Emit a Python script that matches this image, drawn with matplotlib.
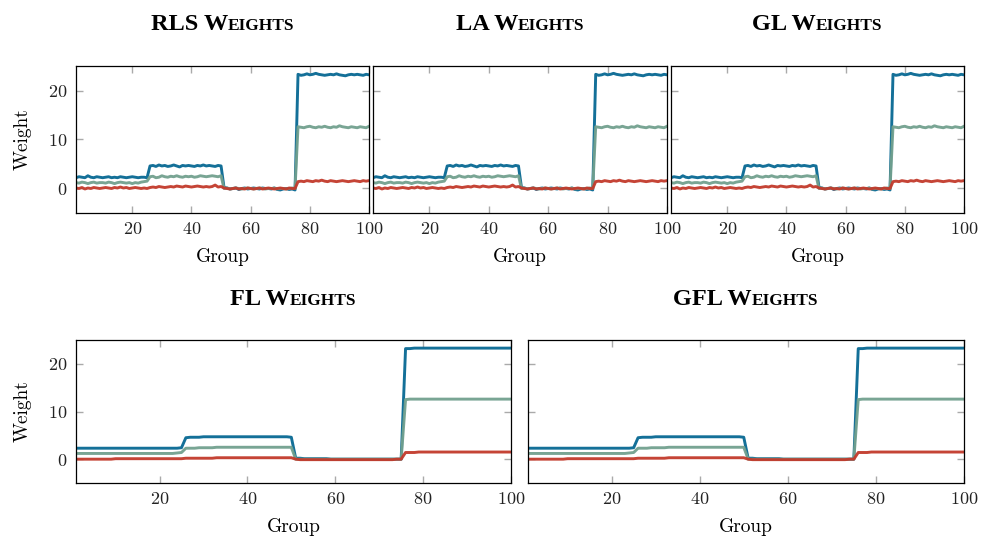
import matplotlib
matplotlib.use('Agg')
import matplotlib.pyplot as plt
from matplotlib.offsetbox import TextArea, HPacker, AnchoredOffsetbox

plt.rcParams['font.family'] = ['cmr10', 'DejaVu Serif']
plt.rcParams['axes.formatter.use_mathtext'] = True

groups = list(range(1, 101))

# noisy estimates (RLS / LA / GL look the same at this scale)
blue_noisy = [
    2.2, 2.4, 2.3, 2.2, 2.6, 2.3, 2.2, 2.4, 2.3, 2.2,
    2.3, 2.4, 2.2, 2.3, 2.2, 2.4, 2.3, 2.2, 2.3, 2.4,
    2.3, 2.2, 2.3, 2.3, 2.2,
    4.6, 4.7, 4.5, 4.8, 4.6, 4.7, 4.5, 4.6, 4.8, 4.6,
    4.4, 4.7, 4.6, 4.7, 4.6, 4.5, 4.7, 4.6, 4.8, 4.6,
    4.7, 4.6, 4.5, 4.7, 4.6,
    0.2, 0.1, -0.1, 0.0, 0.1, -0.2, 0.0, 0.1, -0.1, 0.0,
    0.1, 0.0, -0.1, 0.1, 0.0, 0.0, -0.1, 0.1, -0.2, -0.3,
    -0.1, 0.0, -0.2, -0.1, -0.3,
    23.3, 23.1, 23.2, 23.4, 23.2, 23.3, 23.5, 23.3, 23.2, 23.1,
    23.2, 23.3, 23.2, 23.4, 23.2, 23.1, 23.0, 23.2, 23.3, 23.2,
    23.3, 23.2, 23.1, 23.3, 23.2]
teal_noisy = [
    1.2, 1.1, 1.3, 1.2, 1.0, 1.2, 1.3, 1.1, 1.2, 1.2,
    1.1, 1.3, 1.2, 1.0, 1.2, 1.3, 1.2, 1.1, 1.2, 1.0,
    1.2, 1.1, 1.3, 1.4, 1.5,
    2.4, 2.5, 2.2, 2.3, 2.6, 2.4, 2.3, 2.5, 2.4, 2.6,
    2.4, 2.3, 2.5, 2.4, 2.5, 2.3, 2.4, 2.6, 2.5, 2.4,
    2.5, 2.6, 2.5, 2.4, 2.6,
    0.0, 0.1, -0.1, 0.0, 0.1, 0.0, -0.1, 0.0, 0.1, 0.0,
    -0.1, 0.0, 0.1, 0.0, -0.1, 0.0, 0.0, 0.1, -0.1, 0.0,
    0.0, -0.1, 0.0, 0.1, 0.0,
    12.6, 12.5, 12.4, 12.6, 12.7, 12.5, 12.4, 12.6, 12.5, 12.7,
    12.5, 12.4, 12.6, 12.5, 12.8, 12.6, 12.5, 12.4, 12.6, 12.5,
    12.4, 12.6, 12.5, 12.4, 12.7]
red_noisy = [
    0.1, 0.0, 0.2, -0.1, 0.1, 0.0, 0.2, 0.1, 0.0, 0.1,
    0.2, 0.1, 0.0, 0.2, 0.1, 0.3, 0.1, 0.2, 0.0, 0.1,
    0.2, 0.1, 0.0, 0.1, 0.0,
    0.2, 0.3, 0.2, 0.4, 0.3, 0.2, 0.3, 0.4, 0.3, 0.5,
    0.4, 0.3, 0.5, 0.4, 0.3, 0.4, 0.5, 0.4, 0.3, 0.4,
    0.3, 0.4, 0.7, 0.3, 0.4,
    0.1, 0.0, -0.1, 0.0, 0.1, -0.1, 0.0, -0.1, 0.1, 0.0,
    -0.1, 0.0, 0.1, -0.1, 0.0, 0.1, 0.0, -0.1, 0.0, 0.1,
    0.0, -0.1, 0.1, 0.0, 0.0,
    1.4, 1.5, 1.4, 1.6, 1.5, 1.4, 1.6, 1.5, 1.7, 1.5,
    1.4, 1.6, 1.5, 1.4, 1.5, 1.6, 1.5, 1.4, 1.5, 1.6,
    1.5, 1.4, 1.6, 1.5, 1.6]

# fused (FL / GFL) estimates, nearly flat inside each block
blue_fused = [
    2.3, 2.3, 2.3, 2.3, 2.3, 2.3, 2.3, 2.3, 2.3, 2.3,
    2.3, 2.3, 2.3, 2.3, 2.3, 2.3, 2.3, 2.3, 2.3, 2.3,
    2.3, 2.3, 2.3, 2.3, 2.4,
    4.5, 4.6, 4.6, 4.6, 4.7, 4.7, 4.7, 4.7, 4.7, 4.7,
    4.7, 4.7, 4.7, 4.7, 4.7, 4.7, 4.7, 4.7, 4.7, 4.7,
    4.7, 4.7, 4.7, 4.7, 4.6,
    0.2, 0.2, 0.1, 0.1, 0.1, 0.1, 0.1, 0.1, 0.0, 0.0,
    0.0, 0.0, 0.0, 0.0, 0.0, 0.0, 0.0, 0.0, 0.0, 0.0,
    0.0, 0.0, 0.0, 0.0, 0.0,
    23.2, 23.2, 23.3, 23.3, 23.3, 23.3, 23.3, 23.3, 23.3, 23.3,
    23.3, 23.3, 23.3, 23.3, 23.3, 23.3, 23.3, 23.3, 23.3, 23.3,
    23.3, 23.3, 23.3, 23.3, 23.3]
teal_fused = [
    1.2, 1.2, 1.2, 1.2, 1.2, 1.2, 1.2, 1.2, 1.2, 1.2,
    1.2, 1.2, 1.2, 1.2, 1.2, 1.2, 1.2, 1.2, 1.2, 1.2,
    1.2, 1.2, 1.2, 1.3, 1.4,
    2.3, 2.3, 2.3, 2.4, 2.4, 2.4, 2.4, 2.5, 2.5, 2.5,
    2.5, 2.5, 2.5, 2.5, 2.5, 2.5, 2.5, 2.5, 2.5, 2.5,
    2.5, 2.5, 2.5, 2.5, 2.5,
    0.0, 0.0, 0.0, 0.0, 0.0, 0.0, 0.0, 0.0, 0.0, 0.0,
    0.0, 0.0, 0.0, 0.0, 0.0, 0.0, 0.0, 0.0, 0.0, 0.0,
    0.0, 0.0, 0.0, 0.0, 0.0,
    12.5, 12.6, 12.6, 12.6, 12.6, 12.6, 12.6, 12.6, 12.6, 12.6,
    12.6, 12.6, 12.6, 12.6, 12.6, 12.6, 12.6, 12.6, 12.6, 12.6,
    12.6, 12.6, 12.6, 12.6, 12.6]
red_fused = [
    0.0, 0.0, 0.0, 0.0, 0.0, 0.0, 0.0, 0.0, 0.0, 0.1,
    0.1, 0.1, 0.1, 0.1, 0.1, 0.1, 0.1, 0.1, 0.1, 0.1,
    0.1, 0.1, 0.1, 0.1, 0.1,
    0.2, 0.2, 0.2, 0.2, 0.2, 0.2, 0.2, 0.3, 0.3, 0.3,
    0.3, 0.3, 0.3, 0.3, 0.3, 0.3, 0.3, 0.3, 0.3, 0.3,
    0.3, 0.3, 0.3, 0.3, 0.3,
    0.0, -0.1, -0.1, -0.1, -0.1, -0.1, -0.1, -0.1, -0.1, -0.1,
    -0.1, -0.1, -0.1, -0.1, -0.1, -0.1, -0.1, -0.1, -0.1, -0.1,
    -0.1, -0.1, -0.1, 0.0, 0.0,
    1.4, 1.4, 1.4, 1.5, 1.5, 1.5, 1.5, 1.5, 1.5, 1.5,
    1.5, 1.5, 1.5, 1.5, 1.5, 1.5, 1.5, 1.5, 1.5, 1.5,
    1.5, 1.5, 1.5, 1.5, 1.5]

panels = [
    ('RLS W', 'EIGHTS', blue_noisy, teal_noisy, red_noisy),
    ('LA W', 'EIGHTS', blue_noisy, teal_noisy, red_noisy),
    ('GL W', 'EIGHTS', blue_noisy, teal_noisy, red_noisy),
    ('FL W', 'EIGHTS', blue_fused, teal_fused, red_fused),
    ('GFL W', 'EIGHTS', blue_fused, teal_fused, red_fused),
]

rects = [
    [0.0775, 0.6063, 0.2987, 0.2717],
    [0.3802, 0.6063, 0.2997, 0.2717],
    [0.6840, 0.6063, 0.2987, 0.2717],
    [0.0775, 0.1072, 0.4434, 0.2643],
    [0.5382, 0.1072, 0.4444, 0.2643],
]

colors = ['#076893', '#72a08e', '#c23a2b']
title_font = dict(family='Liberation Serif', fontweight='bold')


def smallcaps_title(ax, big, small):
    t1 = TextArea(big, textprops=dict(fontsize=17.5, **title_font))
    t2 = TextArea(small, textprops=dict(fontsize=12.5, **title_font))
    box = HPacker(children=[t1, t2], align='baseline', pad=0, sep=0)
    anch = AnchoredOffsetbox(loc='lower center', child=box, pad=0, borderpad=0,
                             bbox_to_anchor=(0.5, 1.21), bbox_transform=ax.transAxes,
                             frameon=False)
    ax.add_artist(anch)


fig = plt.figure(figsize=(9.81, 5.41), dpi=100)

for i, (big, small, b, t, r) in enumerate(panels):
    ax = fig.add_axes(rects[i])
    for ys, c in zip([b, t, r], colors):
        ax.plot(groups, ys, color=c, lw=2.1, alpha=0.95)
    ax.set_xlim(1, 100)
    ax.set_ylim(-5, 25)
    ax.set_xticks([20, 40, 60, 80, 100])
    ax.set_yticks([0, 10, 20])
    ax.tick_params(direction='in', top=True, right=True, length=5, width=1,
                   color='#aaaaaa', labelsize=13, pad=6, labelcolor='#222222')
    for sp in ax.spines.values():
        sp.set_linewidth(0.9)
    if i in (0, 3):
        ax.set_ylabel('Weight', fontsize=14, labelpad=12)
    else:
        ax.tick_params(labelleft=False)
    ax.set_xlabel('Group', fontsize=14, labelpad=8)
    smallcaps_title(ax, big, small)

fig.savefig('out.png', dpi=100)
